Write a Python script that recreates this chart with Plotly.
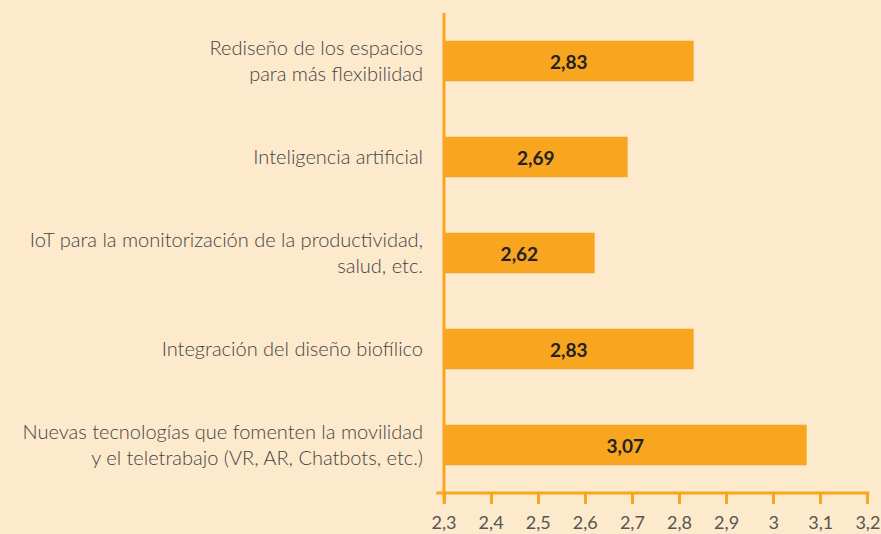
import plotly.graph_objects as go

# Survey categories (top to bottom) and their average scores
categories = [
    "Rediseño de los espacios<br>para más flexibilidad",
    "Inteligencia artificial",
    "IoT para la monitorización de la productividad,<br>salud, etc.",
    "Integración del diseño biofílico",
    "Nuevas tecnologías que fomenten la movilidad<br>y el teletrabajo (VR, AR, Chatbots, etc.)",
]
scores = [2.83, 2.69, 2.62, 2.83, 3.07]
x_ticks = [2.3, 2.4, 2.5, 2.6, 2.7, 2.8, 2.9, 3.0, 3.1, 3.2]
x_tick_text = ["2,3", "2,4", "2,5", "2,6", "2,7", "2,8", "2,9", "3", "3,1", "3,2"]
baseline = 2.3

BG = "#fde9cc"
ORANGE = "#f8a51f"
FONT = "Lato"

labels = [f"{v:.2f}".replace(".", ",") for v in scores]

fig = go.Figure(
    go.Bar(
        x=[v - baseline for v in scores],
        y=categories,
        base=baseline,
        orientation="h",
        marker=dict(color=ORANGE, line=dict(width=0)),
        width=0.42,
        text=labels,
        textposition="inside",
        insidetextanchor="middle",
        textangle=0,
        textfont=dict(family=FONT, size=19, color="#222222", weight="bold"),
        hoverinfo="skip",
    )
)

fig.update_layout(
    width=881,
    height=534,
    margin=dict(l=444, r=13, t=13, b=41),
    paper_bgcolor=BG,
    plot_bgcolor=BG,
    showlegend=False,
    font=dict(family=FONT, color="#4a4a4a"),
)
fig.update_xaxes(
    range=[2.3, 3.2002],
    tickvals=x_ticks,
    ticktext=x_tick_text,
    automargin=False,
    showgrid=False,
    zeroline=False,
    showline=False,
    ticks="outside",
    ticklen=10,
    tickwidth=2.5,
    tickcolor=ORANGE,
    tickfont=dict(family=FONT, size=18, color="#555555"),
    ticklabelstandoff=3,
)
fig.update_yaxes(
    categoryorder="array",
    categoryarray=categories[::-1],
    range=[-0.5, 4.5],
    automargin=False,
    showgrid=False,
    zeroline=False,
    showline=False,
    ticks="",
    tickfont=dict(family=FONT, size=20, color="#444444", weight=300),
    ticklabelstandoff=20,
)

# axis lines: horizontal extends a bit left, vertical extends a bit below
fig.add_shape(type="line", xref="paper", yref="paper",
              x0=-0.018, x1=1.003, y0=0, y1=0,
              line=dict(color=ORANGE, width=3))
fig.add_shape(type="line", xref="paper", yref="paper",
              x0=0, x1=0, y0=-0.021, y1=1.0,
              line=dict(color=ORANGE, width=3))

fig.write_html("out.html")
